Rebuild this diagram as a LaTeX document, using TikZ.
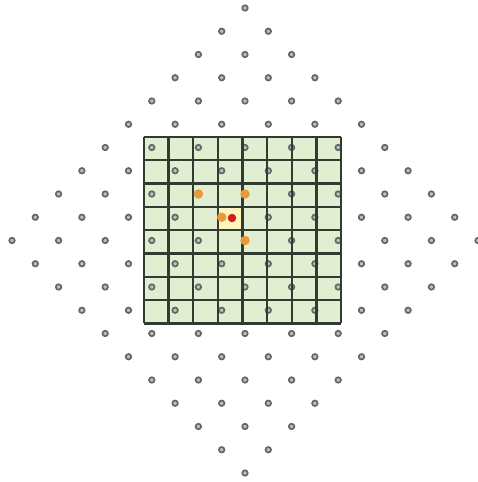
\documentclass[tikz,border=0pt]{standalone}
\usepackage{xcolor}
\usepackage{tikz}
\usetikzlibrary{positioning,shapes.geometric}

\definecolor{cellgreen}{HTML}{E2EED2}
\definecolor{hiyellow}{HTML}{FCF5BE}
\definecolor{gridgray}{HTML}{323B30}
\definecolor{dotgray}{HTML}{666666}
\definecolor{nbrorange}{HTML}{E89A3A}
\definecolor{qred}{HTML}{D21E1E}

\begin{document}
\begin{tikzpicture}[
  x=1pt, y=-1pt,
  latdot/.style={circle, draw=dotgray, fill=black!25, line width=1.7pt, inner sep=0pt, minimum size=5.5pt},
  nbr/.style={circle, fill=nbrorange, inner sep=0pt, minimum size=9.5pt},
  query/.style={circle, fill=qred, inner sep=0pt, minimum size=8.5pt},
  gridline/.style={draw=gridgray, line width=2.3pt},
]
\useasboundingbox (0,0) rectangle (477,482);

% grid cells
\fill[cellgreen] (144,137) rectangle (341,323.4);
\fill[hiyellow] (219,207) rectangle (243.6,230.3);

% rotated lattice of sample points
\foreach \u in {0,...,10}{
  \foreach \v in {0,...,10}{
    \node[latdot] (p-\u-\v) at ({245+23.3*(\u-\v)},{8+23.25*(\u+\v)}) {};
  }
}

% grid lines
\foreach \k in {0,...,8}{
  \draw[gridline] ({144+24.625*\k},137) -- ({144+24.625*\k},323.4);
  \draw[gridline] (144,{137+23.3*\k}) -- (341,{137+23.3*\k});
}

% neighbours and query point
\node[nbr] (n1) at (p-3-5) {};
\node[nbr] (n2) at (p-4-4) {};
\node[nbr] (n3) at (p-4-5) {};
\node[nbr] (n4) at (p-5-5) {};
\node[query] (q) at (232,218) {};
\end{tikzpicture}
\end{document}
